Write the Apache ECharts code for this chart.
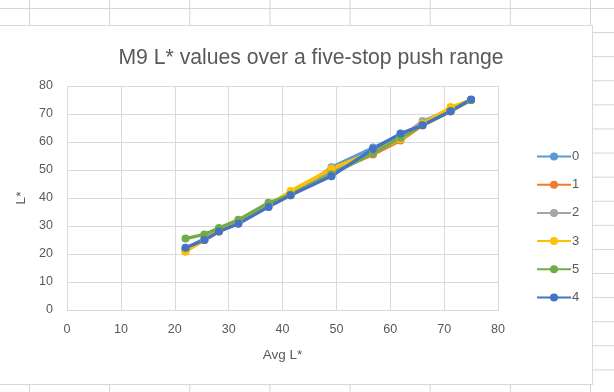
<!DOCTYPE html>
<html>
<head>
<meta charset="utf-8">
<script src="https://cdn.jsdelivr.net/npm/echarts@6/dist/echarts.min.js"></script>
<style>
html,body{margin:0;padding:0;width:614px;height:392px;overflow:hidden;background:#fff;}
#sheet{position:absolute;left:0;top:0;width:614px;height:392px;
 background-image:
  linear-gradient(to right,#d4d4d4 1px,transparent 1px),
  linear-gradient(to bottom,#d4d4d4 1px,transparent 1px);
 background-size:80.15px 100%,100% 24.1px;
 background-position:29px 0,0 8px;}
#wrap{position:absolute;left:-1px;top:25px;width:592px;height:358px;border:1px solid #d9d9d9;background:#fff;}
#chart{width:592px;height:358px;}
</style>
</head>
<body>
<div id="sheet"></div>
<div id="wrap"><div id="chart"></div></div>
<script>
// Data
const avgL = [22, 25.5, 28.2, 31.8, 37.4, 41.5, 49.1, 56.8, 61.9, 66, 71.2, 75];
const seriesNames = ['0', '1', '2', '3', '5', '4'];
const s0 = [22, 25.5, 28.5, 31, 37, 41, 51, 58, 62.5, 66.5, 71, 75];
const s1 = [21.5, 25, 28, 31, 37, 41, 49, 55.5, 60.5, 66, 71, 75];
const s2 = [21, 25, 28.5, 31.5, 37.5, 41.5, 50, 56.5, 61.5, 67.5, 71.5, 75];
const s3 = [20.8, 25, 28.5, 31.5, 37.5, 42.5, 50.5, 56.5, 61, 66.5, 72.5, 75];
const s5 = [25.5, 27, 29.3, 32.2, 38.3, 41.2, 48.5, 56, 61.5, 66, 71, 75];
const s4 = [22.2, 25, 28, 30.8, 36.8, 41, 47.8, 57.5, 63, 66, 71, 75.2];
const xTicks = [0, 10, 20, 30, 40, 50, 60, 70, 80];
const yTicks = [0, 10, 20, 30, 40, 50, 60, 70, 80];

const values = [s0, s1, s2, s3, s5, s4];
const colors = ['#5B9BD5', '#ED7D31', '#A5A5A5', '#FFC000', '#70AD47', '#4472C4'];
const FONT = 'Liberation Sans';
const TXT = '#595959';

const chart = echarts.init(document.getElementById('chart'), null, {renderer: 'canvas'});
chart.setOption({
  animation: false,
  color: colors,
  title: {
    text: 'M9 L* values over a five-stop push range',
    left: 306, top: 17, textAlign: 'center',
    textStyle: {fontFamily: FONT, fontSize: 21.2, fontWeight: 'normal', color: TXT}
  },
  legend: {
    orient: 'vertical', left: 531, top: 119,
    itemWidth: 34, itemHeight: 10, itemGap: 15.2,
    textStyle: {fontFamily: FONT, fontSize: 13, color: TXT, padding: [0, 0, 0, -4]},
    data: seriesNames
  },
  grid: {left: 67, right: 94, top: 60, bottom: 74},
  xAxis: {
    type: 'value', min: xTicks[0], max: xTicks[xTicks.length - 1], interval: 10,
    name: 'Avg L*', nameLocation: 'middle', nameGap: 38,
    nameTextStyle: {fontFamily: FONT, fontSize: 13.5, color: TXT},
    axisLine: {show: true, lineStyle: {color: '#d9d9d9'}},
    axisTick: {show: false},
    axisLabel: {fontFamily: FONT, fontSize: 12.5, color: TXT, margin: 13},
    splitLine: {show: true, lineStyle: {color: '#d9d9d9'}}
  },
  yAxis: {
    type: 'value', min: yTicks[0], max: yTicks[yTicks.length - 1], interval: 10,
    name: 'L*', nameLocation: 'middle', nameGap: 37, nameRotate: 90,
    nameTextStyle: {fontFamily: FONT, fontSize: 13.5, color: TXT},
    axisLine: {show: false},
    axisTick: {show: false},
    axisLabel: {fontFamily: FONT, fontSize: 12.5, color: TXT, margin: 14},
    splitLine: {show: true, lineStyle: {color: '#d9d9d9'}}
  },
  series: seriesNames.map((n, i) => ({
    name: n,
    type: 'line',
    data: avgL.map((x, j) => [x, values[i][j]]),
    symbol: 'circle',
    symbolSize: 8,
    lineStyle: {width: 3.2, color: colors[i]},
    itemStyle: {color: colors[i]}
  }))
});
</script>
</body>
</html>
